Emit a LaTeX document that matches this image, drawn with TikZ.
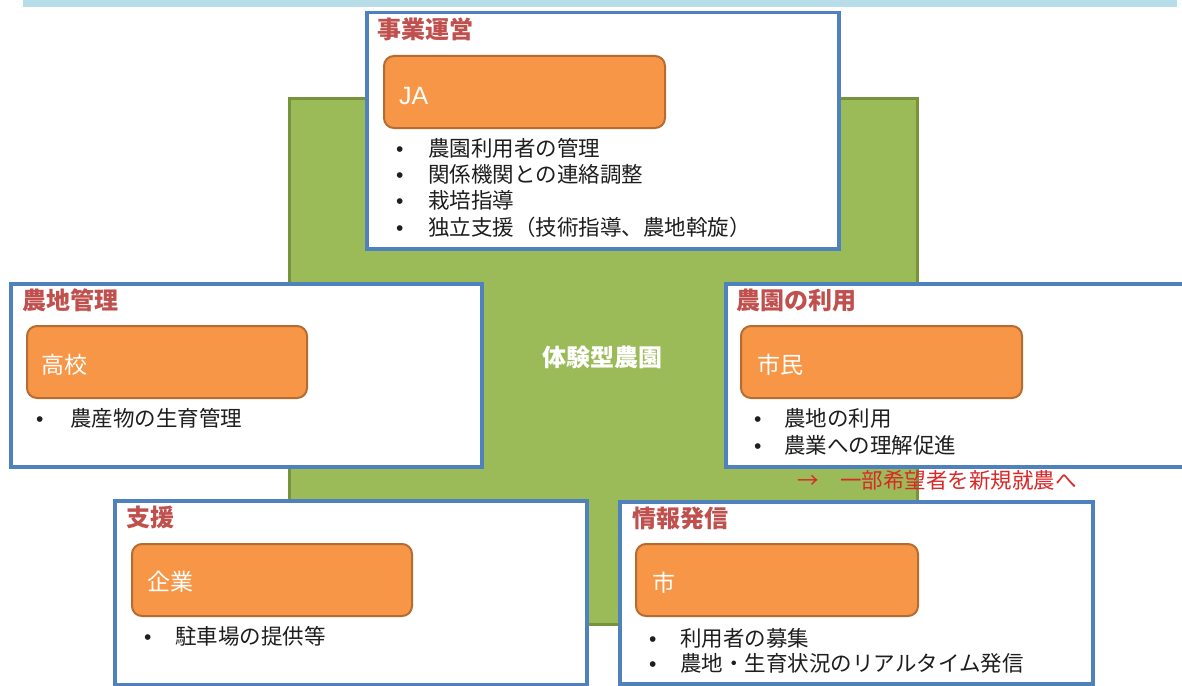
\documentclass[tikz,border=0pt]{standalone}
\usepackage{fontspec}
\setmainfont{Noto Sans CJK JP}
\newfontfamily\latfont{Liberation Sans}
\definecolor{bandblue}{RGB}{183,221,232}
\definecolor{farmgreen}{RGB}{155,187,89}
\definecolor{farmedge}{RGB}{119,147,60}
\definecolor{panelblue}{RGB}{79,129,189}
\definecolor{orangefill}{RGB}{247,150,70}
\definecolor{orangeedge}{RGB}{182,108,48}
\definecolor{titlered}{RGB}{192,80,77}
\definecolor{notered}{RGB}{218,40,40}
\definecolor{bodytext}{RGB}{30,30,30}
\begin{document}
\begin{tikzpicture}[x=1pt,y=-1pt,
  panel/.style={draw=panelblue, line width=3.5pt, fill=white, anchor=north west, inner sep=0pt},
  actor/.style={draw=orangeedge, line width=2pt, fill=orangefill, rounded corners=10pt, anchor=north west, inner sep=0pt, minimum width=280pt, minimum height=72pt},
  paneltitle/.style={anchor=west, inner sep=0pt, text=titlered, font=\fontsize{24pt}{26pt}\selectfont\bfseries, text height=21.1pt, text depth=2.9pt},
  actorname/.style={anchor=west, inner sep=0pt, text=white, font=\fontsize{23pt}{25pt}\selectfont, text height=20.2pt, text depth=2.8pt},
  bodytxt/.style={anchor=west, inner sep=0pt, text=bodytext, font=\fontsize{21.5pt}{24pt}\selectfont, text height=18.9pt, text depth=2.6pt},
  bulletmark/.style={anchor=west, inner sep=0pt, text=bodytext, font=\latfont\fontsize{21pt}{22pt}\selectfont, text height=18.9pt, text depth=2.6pt},
  notetxt/.style={anchor=west, inner sep=0pt, text=notered, font=\fontsize{21.5pt}{24pt}\selectfont, text height=18.9pt, text depth=2.6pt}
]
\useasboundingbox (0,0) rectangle (1182,685);
\clip (0,0) rectangle (1182,685);

% top band
\node[fill=bandblue, anchor=north west, inner sep=0pt, minimum width=1154pt, minimum height=7pt] (band) at (23,0) {};

% central farm
\node[fill=farmgreen, draw=farmedge, line width=3pt, anchor=north west, inner sep=0pt, minimum width=628pt, minimum height=526pt] (farm) at (288,97) {};
\node[anchor=center, inner sep=0pt, text=white, font=\fontsize{24pt}{26pt}\selectfont\bfseries] (farmlabel) at (602,357) {体験型農園};

% ---- top panel: 事業運営
\node[panel, minimum width=472pt, minimum height=236pt] (tb) at (365,11) {};
\node[paneltitle] (tbt) at (377,29) {事業運営};
\node[actor, minimum width=281pt] (ja) at (383,55) {};
\node[anchor=west, inner sep=0pt, text=white, font=\latfont\fontsize{25pt}{27pt}\selectfont, text height=18pt, text depth=0pt] (jat) at (399,95) {JA};
\node[bulletmark] (tbb1) at (396,148) {•};
\node[bodytxt] (tbl1) at (428,148) {農園利用者の管理};
\node[bulletmark] (tbb2) at (396,174) {•};
\node[bodytxt] (tbl2) at (428,174) {関係機関との連絡調整};
\node[bulletmark] (tbb3) at (396,200) {•};
\node[bodytxt] (tbl3) at (428,200) {栽培指導};
\node[bulletmark] (tbb4) at (396,227) {•};
\node[bodytxt] (tbl4) at (428,227) {独立支援（技術指導、農地斡旋）};

% ---- left panel: 農地管理
\node[panel, minimum width=471pt, minimum height=183pt] (lb) at (9,282) {};
\node[paneltitle] (lbt) at (22,300) {農地管理};
\node[actor] (hs) at (26,325) {};
\node[actorname] (hst) at (41,365) {高校};
\node[bulletmark] (lbb1) at (36,418) {•};
\node[bodytxt] (lbl1) at (70,418) {農産物の生育管理};

% ---- right panel: 農園の利用
\node[panel, minimum width=480pt, minimum height=183pt] (rb) at (724,282) {};
\node[paneltitle] (rbt) at (736,300) {農園の利用};
\node[actor, minimum width=281pt] (cz) at (740,325) {};
\node[actorname] (czt) at (757,365) {市民};
\node[bulletmark] (rbb1) at (754,418) {•};
\node[bodytxt] (rbl1) at (784,418) {農地の利用};
\node[bulletmark] (rbb2) at (754,445) {•};
\node[bodytxt] (rbl2) at (784,445) {農業への理解促進};
\node[notetxt] (note) at (797,480) {→　一部希望者を新規就農へ};

% ---- bottom-left panel: 支援
\node[panel, minimum width=472pt, minimum height=184pt] (sb) at (113,499) {};
\node[paneltitle] (sbt) at (126,517) {支援};
\node[actor] (co) at (131,543) {};
\node[actorname] (cot) at (147,582) {企業};
\node[bulletmark] (sbb1) at (144,636) {•};
\node[bodytxt] (sbl1) at (175,636) {駐車場の提供等};

% ---- bottom-right panel: 情報発信
\node[panel, minimum width=473pt, minimum height=182pt] (ib) at (618,500) {};
\node[paneltitle] (ibt) at (632,518) {情報発信};
\node[actor, minimum width=282pt] (ct) at (635,543) {};
\node[actorname] (ctt) at (652,583) {市};
\node[bulletmark] (ibb1) at (649,638) {•};
\node[bodytxt] (ibl1) at (680,638) {利用者の募集};
\node[bulletmark] (ibb2) at (649,663) {•};
\node[bodytxt] (ibl2) at (680,663) {農地・生育状況のリアルタイム発信};
\end{tikzpicture}
\end{document}
